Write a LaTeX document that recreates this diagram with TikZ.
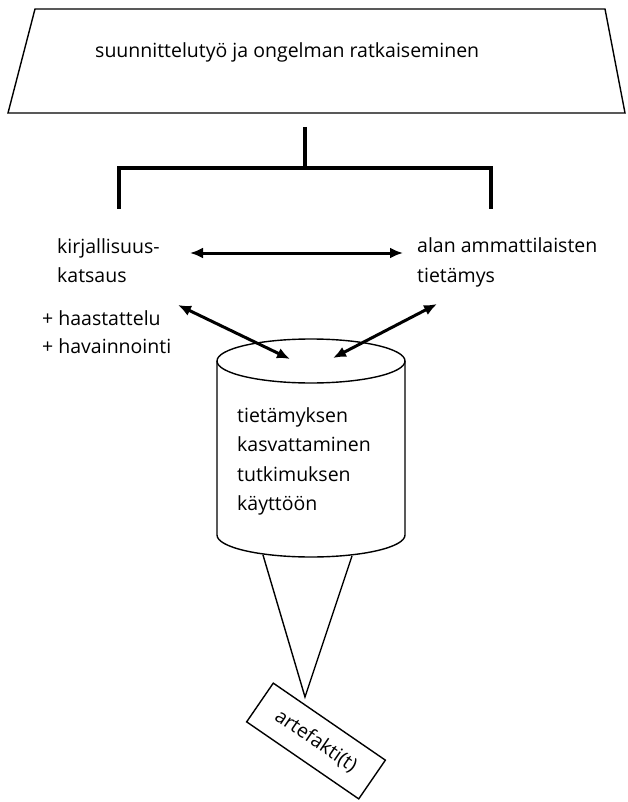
\documentclass[tikz,border=0pt]{standalone}
\usepackage{fontspec}
\setmainfont{Open Sans}
\usetikzlibrary{arrows.meta}
\begin{document}
\begin{tikzpicture}[x=1pt,y=-1pt,
  label/.style={font=\fontsize{19.5}{29.4}\selectfont, text=black, inner sep=0pt, align=left},
  thin/.style={line width=1.4pt},
  bracket/.style={line width=3.6pt},
  twoway/.style={line width=3pt, {Latex[length=13pt,width=11pt]}-{Latex[length=13pt,width=11pt]}}]
\useasboundingbox (0,0) rectangle (628,802);

% top trapezoid
\draw[thin] (35,9) -- (605,9) -- (625,113) -- (8,113) -- cycle;
\node[label, anchor=base west] (title) at (95,58) {suunnittelutyö ja ongelman ratkaiseminen};

% bracket joining the two sources
\coordinate (bTop) at (305,127);
\coordinate (bMid) at (305,168);
\coordinate (bL) at (119,168);
\coordinate (bR) at (491,168);
\coordinate (bLd) at (119,209);
\coordinate (bRd) at (491,209);
\draw[bracket] (bTop) -- (bMid);
\draw[bracket, line join=miter] (bLd) -- (bL) -- (bR) -- (bRd);

% sources
\node[label, anchor=base west] (lit1) at (57,253) {kirjallisuus-};
\node[label, anchor=base west] (lit2) at (57,282) {katsaus};
\node[label, anchor=base west] (pro1) at (417,252) {alan ammattilaisten};
\node[label, anchor=base west] (pro2) at (417,282) {tietämys};
\node[label, anchor=base west] (int1) at (42,325) {+ haastattelu};
\node[label, anchor=base west] (int2) at (42,353) {+ havainnointi};

% cylinder
\def\cx{311}
\draw[thin] (\cx,361) ellipse [x radius=94, y radius=22];
\draw[thin] (217,361) -- (217,535) arc [start angle=180, end angle=0, x radius=94, y radius=22] -- (405,361);
\node[label, anchor=base west] (c1) at (237,422) {tietämyksen};
\node[label, anchor=base west] (c2) at (237,451) {kasvattaminen};
\node[label, anchor=base west] (c3) at (237,481) {tutkimuksen};
\node[label, anchor=base west] (c4) at (237,510) {käyttöön};

% arrows
\coordinate (hL) at (190,253);
\coordinate (hR) at (403,253);
\coordinate (dL) at (178,305);
\coordinate (dLc) at (290,359);
\coordinate (dR) at (437,304);
\coordinate (dRc) at (333,358);
\draw[twoway] (hL) -- (hR);
\draw[twoway] (dL) -- (dLc);
\draw[twoway] (dR) -- (dRc);

% cone down to the artefact
\coordinate (coneL) at (263,555);
\coordinate (coneR) at (352,556);
\coordinate (apex) at (305,697);
\draw[thin, line join=miter] (coneL) -- (apex) -- (coneR);

\node[draw, thin, rotate=-34.5, minimum width=136pt, minimum height=47pt, inner sep=0pt,
  font=\fontsize{19.5}{24}\selectfont, text=black] (art) at (316,741) {artefakti(t)};
\end{tikzpicture}
\end{document}
